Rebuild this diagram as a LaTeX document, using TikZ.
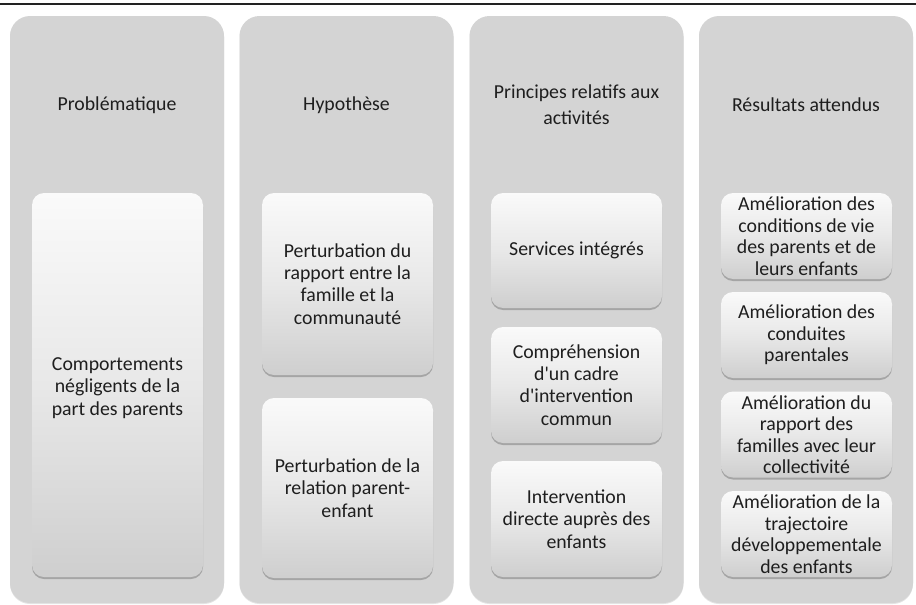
\documentclass[tikz,border=0pt]{standalone}
\usepackage{fontspec}
\setmainfont{Carlito}
\usetikzlibrary{shadows}
\definecolor{colbg}{HTML}{D4D4D4}
\definecolor{txt}{HTML}{1E1E1E}
\definecolor{topline}{HTML}{222222}
\tikzset{
  column/.style={fill=colbg, draw=none, rounded corners=20pt, minimum width=214pt, minimum height=587pt,
    drop shadow={shadow xshift=0pt, shadow yshift=-1pt, opacity=0.10, fill=black}},
  innerbox/.style={rounded corners=12pt, minimum width=171pt, draw=none,
    top color=white!98!black, bottom color=black!19, middle color=white!91!black,
    drop shadow={shadow xshift=0pt, shadow yshift=-2pt, opacity=0.22, fill=black},
    align=center, text=txt, font=\fontsize{19.8}{22.3}\selectfont},
  title/.style={align=center, text=txt, font=\fontsize{19.8}{26}\selectfont}
}
\begin{document}
\begin{tikzpicture}[x=1pt,y=-1pt]
\useasboundingbox (0,0) rectangle (916,605);
\draw[line width=1.8pt, topline] (0,4) -- (916,4);
% columns
\node[column] (c1) at (117,309.5) {};
\node[column] (c2) at (346.5,309.5) {};
\node[column] (c3) at (576.5,309.5) {};
\node[column] (c4) at (806,309.5) {};
% titles
\node[title] (t1) at (117,105) {Problématique};
\node[title] (t2) at (346.5,105) {Hypothèse};
\node[title] (t3) at (576.5,105) {Principes relatifs aux\\activités};
\node[title] (t4) at (806,105) {Résultats attendus};
% column 1
\node[innerbox, minimum height=384pt] (a1) at (117.5,385) {};
\node[align=center, text=txt, font=\fontsize{19.8}{22.3}\selectfont] (a1t) at (117.5,388) {Comportements\\négligents de la\\part des parents};
% column 2
\node[innerbox, minimum height=182pt] (b1) at (347.5,284) {Perturbation du\\rapport entre la\\famille et la\\communauté};
\node[innerbox, minimum height=180pt] (b2) at (347.5,488) {Perturbation de la\\relation parent-\\enfant};
% column 3
\node[innerbox, minimum height=115pt] (p1) at (576.5,250.5) {Services intégrés};
\node[innerbox, minimum height=116pt] (p2) at (576.5,385) {Compréhension\\d\textquotesingle un cadre\\d\textquotesingle intervention\\commun};
\node[innerbox, minimum height=116pt] (p3) at (576.5,519) {Intervention\\directe auprès des\\enfants};
% column 4
\node[innerbox, minimum height=86pt, font=\fontsize{19.8}{21.5}\selectfont] (r1) at (806.5,236) {Amélioration des\\conditions de vie\\des parents et de\\leurs enfants};
\node[innerbox, minimum height=86pt, font=\fontsize{19.8}{21.5}\selectfont] (r2) at (806.5,335) {Amélioration des\\conduites\\parentales};
\node[innerbox, minimum height=86pt, font=\fontsize{19.8}{21.5}\selectfont] (r3) at (806.5,434.5) {Amélioration du\\rapport des\\familles avec leur\\collectivité};
\node[innerbox, minimum height=86pt, font=\fontsize{19.8}{21.5}\selectfont] (r4) at (806.5,534) {Amélioration de la\\trajectoire\\développementale\\des enfants};
\end{tikzpicture}
\end{document}
